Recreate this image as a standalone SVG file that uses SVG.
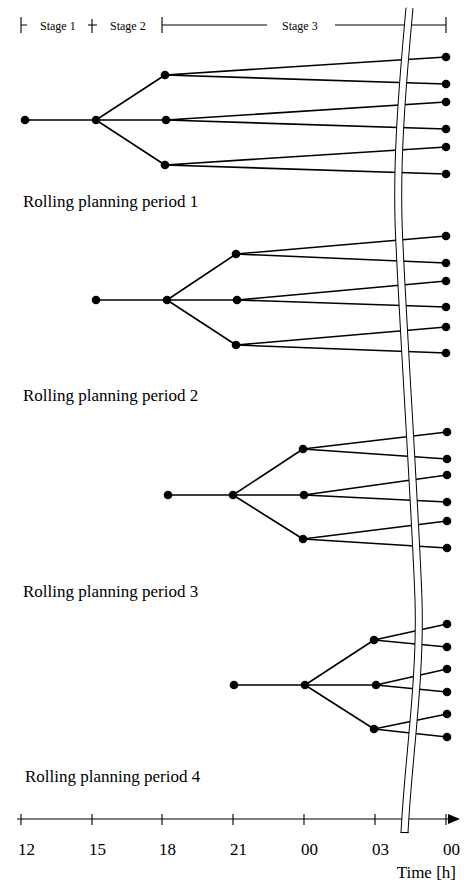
<svg xmlns="http://www.w3.org/2000/svg" width="468" height="884" viewBox="0 0 468 884">
<style>
.t{font-family:"Liberation Serif","Times New Roman",serif;fill:#000}
.lbl{font-size:17px}
.st{font-size:12px}
.e{stroke:#000;stroke-width:1.6;fill:none}
.ax{stroke:#000;stroke-width:1.1;fill:none}
.n{fill:#000}
</style>
<rect width="468" height="884" fill="#fff"/>
<g id="header">
<path class="ax" d="M21,17V33M21,25H27M92,19V33M88,25H97M162,17V33M162,25H267M335,25H446M446,17V33"/>
<text class="t st" x="40" y="30">Stage 1</text>
<text class="t st" x="110" y="30">Stage 2</text>
<text class="t st" x="282" y="30">Stage 3</text>
</g>
<g id="connectors">
<path class="e" d="M25,120H96M96,120L165,75M96,120H166M96,120L165,165M165,75L446,57M165,75L446,84M166,120L446,102M166,120L446,129M165,165L446,147M165,165L446,174"/>
<path class="e" d="M96,300H167M167,300L236,254M167,300H237M167,300L236,345M236,254L446,236M236,254L446,263M237,300L446,281M237,300L446,307M236,345L446,327M236,345L446,353"/>
<path class="e" d="M168,495H233M233,495L303,449M233,495H304M233,495L303,539M303,449L447,432M303,449L447,459M304,495L447,475M304,495L447,502M303,539L447,521M303,539L447,548"/>
<path class="e" d="M234,685H305M305,685L374,640M305,685H376M305,685L374,729M374,640L447,624M374,640L447,647M376,685L447,669M376,685L447,692M374,729L447,714M374,729L447,737"/>
</g>
<g id="tree1">
<circle id="p1-root" class="n" cx="25" cy="120" r="4.3"/>
<circle id="p1-s2" class="n" cx="96" cy="120" r="4.3"/>
<circle id="p1-a" class="n" cx="165" cy="75" r="4.3"/>
<circle id="p1-b" class="n" cx="166" cy="120" r="4.3"/>
<circle id="p1-c" class="n" cx="165" cy="165" r="4.3"/>
<circle id="p1-l1" class="n" cx="446" cy="57" r="4.3"/>
<circle id="p1-l2" class="n" cx="446" cy="84" r="4.3"/>
<circle id="p1-l3" class="n" cx="446" cy="102" r="4.3"/>
<circle id="p1-l4" class="n" cx="446" cy="129" r="4.3"/>
<circle id="p1-l5" class="n" cx="446" cy="147" r="4.3"/>
<circle id="p1-l6" class="n" cx="446" cy="174" r="4.3"/>
<text class="t lbl" x="23" y="207">Rolling planning period 1</text>
</g>
<g id="tree2">
<circle id="p2-root" class="n" cx="96" cy="300" r="4.3"/>
<circle id="p2-s2" class="n" cx="167" cy="300" r="4.3"/>
<circle id="p2-a" class="n" cx="236" cy="254" r="4.3"/>
<circle id="p2-b" class="n" cx="237" cy="300" r="4.3"/>
<circle id="p2-c" class="n" cx="236" cy="345" r="4.3"/>
<circle id="p2-l1" class="n" cx="446" cy="236" r="4.3"/>
<circle id="p2-l2" class="n" cx="446" cy="263" r="4.3"/>
<circle id="p2-l3" class="n" cx="446" cy="281" r="4.3"/>
<circle id="p2-l4" class="n" cx="446" cy="307" r="4.3"/>
<circle id="p2-l5" class="n" cx="446" cy="327" r="4.3"/>
<circle id="p2-l6" class="n" cx="446" cy="353" r="4.3"/>
<text class="t lbl" x="23" y="401">Rolling planning period 2</text>
</g>
<g id="tree3">
<circle id="p3-root" class="n" cx="168" cy="495" r="4.3"/>
<circle id="p3-s2" class="n" cx="233" cy="495" r="4.3"/>
<circle id="p3-a" class="n" cx="303" cy="449" r="4.3"/>
<circle id="p3-b" class="n" cx="304" cy="495" r="4.3"/>
<circle id="p3-c" class="n" cx="303" cy="539" r="4.3"/>
<circle id="p3-l1" class="n" cx="447" cy="432" r="4.3"/>
<circle id="p3-l2" class="n" cx="447" cy="459" r="4.3"/>
<circle id="p3-l3" class="n" cx="447" cy="475" r="4.3"/>
<circle id="p3-l4" class="n" cx="447" cy="502" r="4.3"/>
<circle id="p3-l5" class="n" cx="447" cy="521" r="4.3"/>
<circle id="p3-l6" class="n" cx="447" cy="548" r="4.3"/>
<text class="t lbl" x="23" y="597">Rolling planning period 3</text>
</g>
<g id="tree4">
<circle id="p4-root" class="n" cx="234" cy="685" r="4.3"/>
<circle id="p4-s2" class="n" cx="305" cy="685" r="4.3"/>
<circle id="p4-a" class="n" cx="374" cy="640" r="4.3"/>
<circle id="p4-b" class="n" cx="376" cy="685" r="4.3"/>
<circle id="p4-c" class="n" cx="374" cy="729" r="4.3"/>
<circle id="p4-l1" class="n" cx="447" cy="624" r="4.3"/>
<circle id="p4-l2" class="n" cx="447" cy="647" r="4.3"/>
<circle id="p4-l3" class="n" cx="447" cy="669" r="4.3"/>
<circle id="p4-l4" class="n" cx="447" cy="692" r="4.3"/>
<circle id="p4-l5" class="n" cx="447" cy="714" r="4.3"/>
<circle id="p4-l6" class="n" cx="447" cy="737" r="4.3"/>
<text class="t lbl" x="25" y="782">Rolling planning period 4</text>
</g>
<g id="axis">
<path class="ax" d="M17,819H450M21,814V825M92,814V825M162,814V825M233,814V825M304,814V825M375,814V825M446,814V825"/>
<path d="M448,814L460,819L448,824Z" fill="#000"/>
<text class="t lbl" x="18" y="855">12</text>
<text class="t lbl" x="89" y="855">15</text>
<text class="t lbl" x="159" y="855">18</text>
<text class="t lbl" x="230" y="855">21</text>
<text class="t lbl" x="301" y="855">00</text>
<text class="t lbl" x="372" y="855">03</text>
<text class="t lbl" x="443" y="855">00</text>
<text class="t lbl" x="456" y="878" text-anchor="end">Time [h]</text>
</g>
<g id="break">
<path d="M409.5,8C401,100 397,160 398.5,220C400,280 416,520 418.5,600C421,680 408,760 404.5,833" fill="none" stroke="#000" stroke-width="8"/>
<path d="M409.5,8C401,100 397,160 398.5,220C400,280 416,520 418.5,600C421,680 408,760 404.5,833" fill="none" stroke="#fff" stroke-width="6"/>
<path d="M400.5,832.5H408.5" stroke="#000" stroke-width="1"/>
</g>
</svg>
